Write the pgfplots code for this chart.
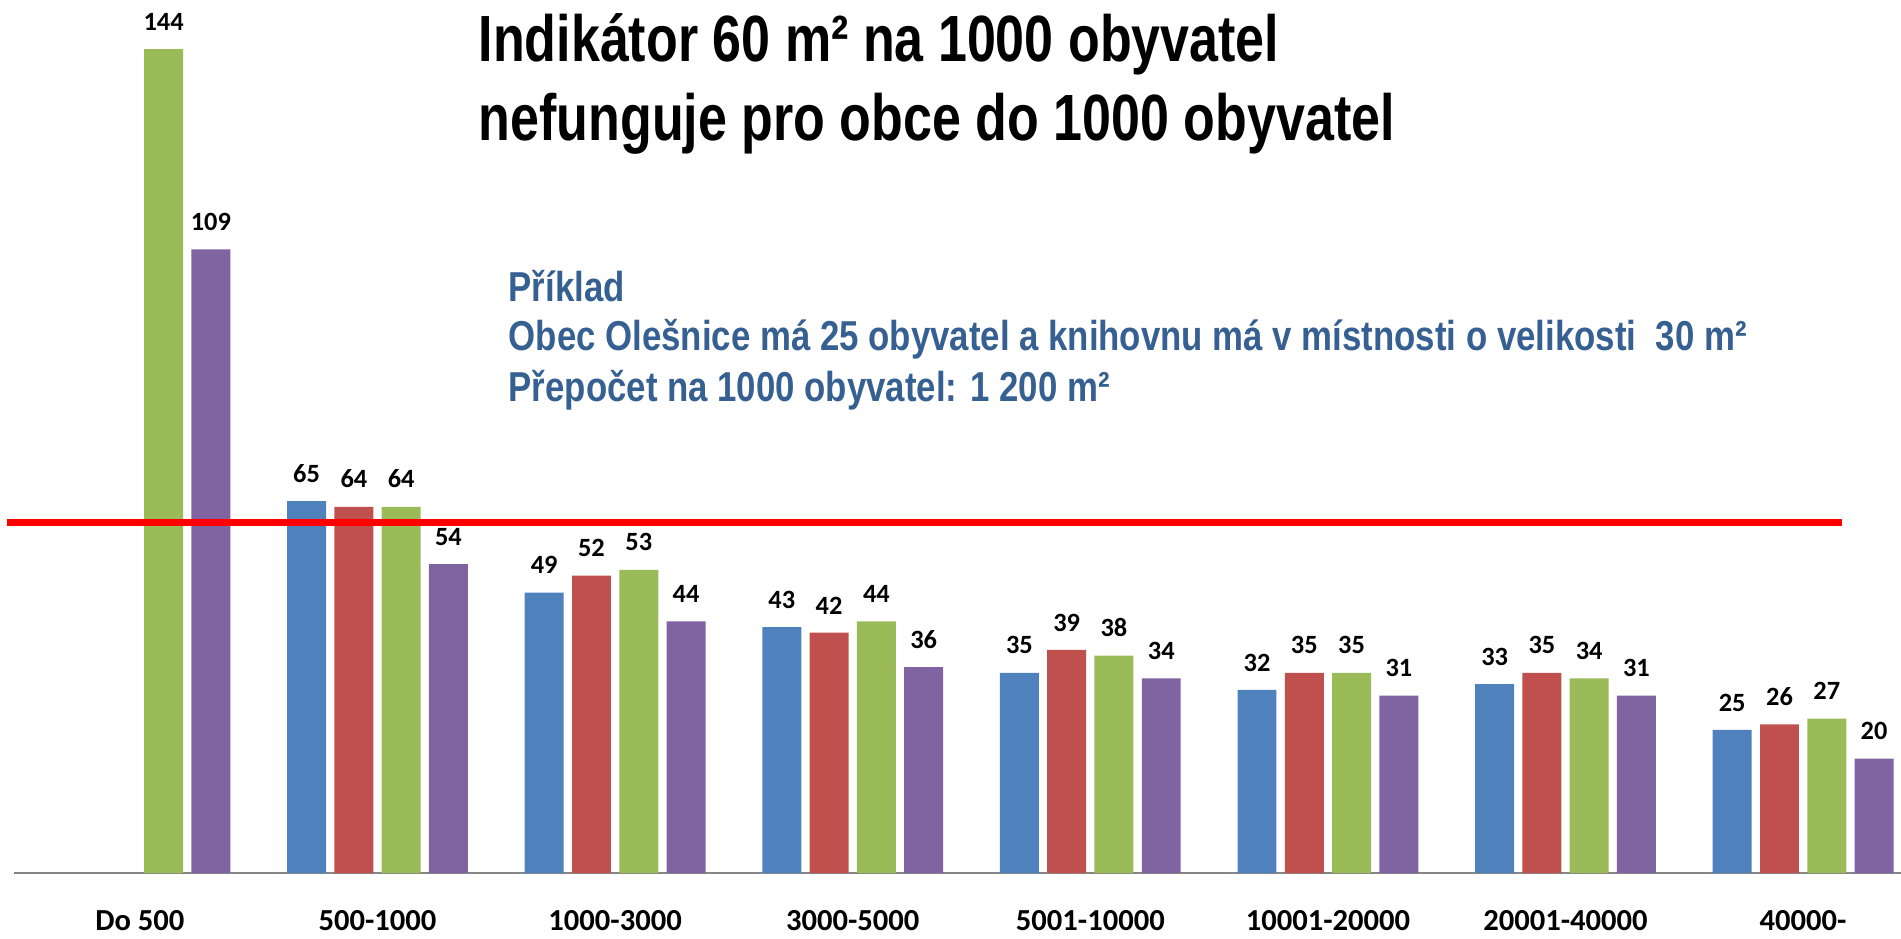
\documentclass[border=0pt]{standalone}
\usepackage{pgfplots}
\pgfplotsset{compat=1.18}
\usepackage{fontspec}
\usepackage{graphicx}
\setmainfont{Carlito}
\newfontfamily\titlefont{Liberation Sans}[FakeStretch=0.82]
\definecolor{cblue}{HTML}{4F81BD}
\definecolor{cred}{HTML}{C0504D}
\definecolor{cgreen}{HTML}{9BBB59}
\definecolor{cpurple}{HTML}{8064A2}
\definecolor{txtblue}{HTML}{376092}
\definecolor{axisgray}{HTML}{868686}
\newlength\lwA
\newlength\lwB
\begin{document}
\settowidth\lwA{\titlefont\bfseries\fontsize{18.6}{22}\selectfont nefunguje pro obce do 1000 obyvatel}%
\settowidth\lwB{\titlefont\bfseries\fontsize{11.9}{14}\selectfont Obec Olešnice má 25 obyvatel a knihovnu má v místnosti o velikosti\ \ 30 m²}%
\pgfmathsetmacro\tsx{91.6*72.27/25.4/\lwA}%
\pgfmathsetmacro\bsx{123.8*72.27/25.4/\lwB}%
\begin{tikzpicture}[x=1mm,y=1mm]
\useasboundingbox (0,0) rectangle (190.1,93.8);
\begin{axis}[
  at={(1.4mm,6.5mm)}, anchor=south west,
  scale only axis, width=188.7mm, height=87.3mm,
  xmin=-0.530, xmax=7.412, ymin=0, ymax=152.6,
  clip=false,
  axis x line*=bottom, axis y line=none,
  x axis line style={draw=axisgray, line width=0.15mm, -},
  xtick={0,1,2,3,4,5,6,7},
  xticklabels={Do 500,500-1000,1000-3000,3000-5000,5001-10000,10001-20000,20001-40000,40000-},
  major tick length=0pt,
  xticklabel style={font=\bfseries\fontsize{8.7}{10}\selectfont, anchor=base, yshift=-5.75mm, inner sep=0pt, text=black},
  ybar, bar width=0.164,
  /pgf/number format/assume math mode=true,
  every node near coord/.append style={font=\bfseries\fontsize{7.5}{9}\selectfont, anchor=south, inner sep=0pt, yshift=1.8mm, text=black},
]
\addplot[fill=cblue, draw=none, bar shift=-0.2985, nodes near coords] coordinates {(1,65) (2,49) (3,43) (4,35) (5,32) (6,33) (7,25)};
\addplot[fill=cred, draw=none, bar shift=-0.0995, nodes near coords] coordinates {(1,64) (2,52) (3,42) (4,39) (5,35) (6,35) (7,26)};
\addplot[fill=cgreen, draw=none, bar shift=0.0995, nodes near coords] coordinates {(0,144) (1,64) (2,53) (3,44) (4,38) (5,35) (6,34) (7,27)};
\addplot[fill=cpurple, draw=none, bar shift=0.2985, nodes near coords] coordinates {(0,109) (1,54) (2,44) (3,36) (4,34) (5,31) (6,31) (7,20)};
\addplot[sharp plot, red, line width=0.7mm, mark=none, fill=none] coordinates {(-0.560,61.3) (7.163,61.3)};
\end{axis}
\begin{scope}[every node/.style={anchor=base west, inner sep=0pt}]
\node at (47.8,87.6) {\titlefont\bfseries\fontsize{18.6}{22}\selectfont\scalebox{\tsx}[1]{Indikátor 60 m² na 1000 obyvatel}};
\node at (47.8,79.7) {\titlefont\bfseries\fontsize{18.6}{22}\selectfont\scalebox{\tsx}[1]{nefunguje pro obce do 1000 obyvatel}};
\node[text=txtblue] at (50.8,63.6) {\titlefont\bfseries\fontsize{11.9}{14}\selectfont\scalebox{\bsx}[1]{Příklad}};
\node[text=txtblue] at (50.8,58.8) {\titlefont\bfseries\fontsize{11.9}{14}\selectfont\scalebox{\bsx}[1]{Obec Olešnice má 25 obyvatel a knihovnu má v místnosti o velikosti\ \ 30 m²}};
\node[text=txtblue] at (50.8,53.7) {\titlefont\bfseries\fontsize{11.9}{14}\selectfont\scalebox{\bsx}[1]{Přepočet na 1000 obyvatel: 1 200 m²}};
\end{scope}
\end{tikzpicture}
\end{document}
